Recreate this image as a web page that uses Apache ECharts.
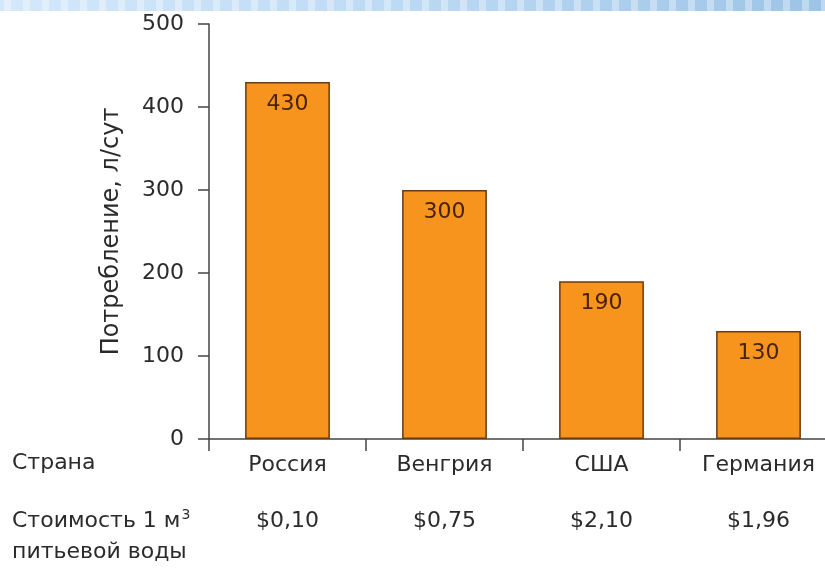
<!DOCTYPE html>
<html><head><meta charset="utf-8">
<script src="https://cdn.jsdelivr.net/npm/echarts@6/dist/echarts.min.js"></script>
<style>html,body{margin:0;padding:0;background:#fff}#c{width:825px;height:570px}</style>
</head><body><div id="c"></div>
<script>
const categories = ['Россия', 'Венгрия', 'США', 'Германия'];
const consumption = [430, 300, 190, 130];
const costs = ['$0,10', '$0,75', '$2,10', '$1,96'];
const yTicks = [0, 100, 200, 300, 400, 500];

const FONT = '"DejaVu Sans", Verdana, sans-serif';
const TXT = '#2b2b2b';

// decorative striped header band
const band = [{
  type: 'rect', left: 0, top: 0, z: 100,
  shape: { width: 825, height: 11 },
  style: {
    fill: new echarts.graphic.LinearGradient(0, 0, 1, 0, [
      { offset: 0, color: '#d4e8fa' },
      { offset: 0.5, color: '#bcd9f3' },
      { offset: 1, color: '#9cc4e6' }
    ])
  }
}];
for (let x = 4; x < 825; x += 19) {
  band.push({ type: 'rect', left: x, top: 0, z: 101, shape: { width: 7, height: 11 },
    style: { fill: 'rgba(255,255,255,0.35)' } });
}

const chart = echarts.init(document.getElementById('c'));
chart.setOption({
  backgroundColor: '#ffffff',
  animation: false,
  grid: { left: 209, width: 628, top: 24, height: 415, outerBoundsMode: 'none', containLabel: false },
  xAxis: [{
    type: 'category',
    data: categories,
    position: 'bottom',
    axisLine: { lineStyle: { color: '#444', width: 1.5 } },
    axisTick: { show: true, length: 12, lineStyle: { color: '#444', width: 1.5 } },
    axisLabel: { margin: 15, fontSize: 22, color: TXT, fontFamily: FONT }
  }, {
    type: 'category',
    data: categories,
    position: 'bottom',
    offset: 56,
    axisLine: { show: false },
    axisTick: { show: false },
    axisLabel: {
      margin: 15, fontSize: 22, color: TXT, fontFamily: FONT,
      formatter: (v, i) => costs[i]
    }
  }],
  yAxis: {
    type: 'value',
    min: 0, max: 500, interval: 100,
    name: 'Потребление, л/сут',
    nameLocation: 'middle',
    nameGap: 85,
    nameRotate: 90,
    nameTextStyle: { fontSize: 24, color: TXT, fontFamily: FONT },
    axisLine: { show: true, lineStyle: { color: '#444', width: 1.5 } },
    axisTick: { show: true, length: 11, lineStyle: { color: '#444', width: 1.5 } },
    splitLine: { show: false },
    axisLabel: {
      margin: 25, fontSize: 22, color: TXT, fontFamily: FONT,
      formatter: v => yTicks.includes(v) ? String(v) : ''
    }
  },
  series: [{
    type: 'bar',
    xAxisIndex: 0,
    data: consumption,
    barWidth: '54%',
    itemStyle: { color: '#F7941D', borderColor: '#6b3a10', borderWidth: 1.5 },
    label: {
      show: true, position: 'insideTop', distance: 11,
      fontSize: 22, color: '#4a2208', fontFamily: FONT
    }
  }],
  graphic: band.concat([
    { type: 'text', left: 12, top: 452, style: { text: 'Страна', fontSize: 22, fill: TXT, fontFamily: FONT } },
    {
      type: 'text', left: 12, top: 508,
      style: {
        text: '{n|Стоимость 1 м}{s|3}',
        rich: {
          n: { fontSize: 22, fill: TXT, fontFamily: FONT, lineHeight: 26 },
          s: { fontSize: 14, fill: TXT, fontFamily: FONT, lineHeight: 26, verticalAlign: 'top', padding: [0, 0, 8, 1] }
        }
      }
    },
    { type: 'text', left: 12, top: 541, style: { text: 'питьевой воды', fontSize: 22, fill: TXT, fontFamily: FONT } }
  ])
});
</script>
</body></html>
